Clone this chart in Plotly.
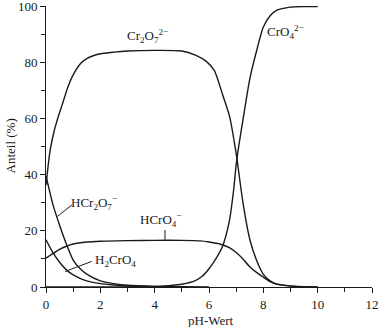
import plotly.graph_objects as go

# ---- data (pH, share in %) ----
ph_cr2o7 = [0, 0.15, 0.3, 0.45, 0.6, 0.8, 1.0, 1.25, 1.5, 2.0, 2.5, 3.0, 4.0, 5.0, 5.5, 5.9, 6.2, 6.5, 6.75, 7.0, 7.25, 7.5, 7.75, 8.0, 8.25, 8.5, 9.0, 10.0]
cr2o7 = [36.3, 48.5, 55.5, 60.6, 65, 71, 75.5, 79.3, 81.3, 83, 83.6, 84, 84.2, 84, 82.5, 80.3, 77, 68.5, 61, 47.5, 30, 17, 9.5, 4.5, 2.2, 1.0, 0.3, 0]

ph_cro4 = [0, 3, 4, 4.5, 5, 5.5, 5.75, 6.0, 6.25, 6.5, 6.75, 6.9, 7.0, 7.1, 7.25, 7.5, 7.75, 8.0, 8.25, 8.5, 9.0, 9.5, 10]
cro4 = [0, 0, 0.2, 0.5, 1.0, 2.3, 3.8, 6.5, 10, 14.5, 23.5, 34, 43.5, 50.5, 59.5, 74, 84, 92.5, 96.5, 98.5, 99.6, 99.8, 99.8]

ph_hcro4 = [0, 0.25, 0.5, 0.75, 1.0, 1.5, 2.0, 3.0, 4.0, 5.0, 5.7, 6.0, 6.4, 6.75, 7.0, 7.25, 7.5, 7.75, 8.0, 8.25, 8.5, 9.0, 9.5, 10]
hcro4 = [10.3, 11.9, 13.4, 14.5, 15.3, 16.0, 16.3, 16.5, 16.6, 16.6, 16.4, 16.0, 15.3, 14.0, 12.3, 10.0, 7.2, 5.2, 3.5, 1.9, 1.0, 0.4, 0.1, 0]

ph_hcr2o7 = [0, 0.25, 0.5, 0.75, 1.0, 1.25, 1.5, 2.0, 2.5, 3.0, 4.0, 5.0, 6.0]
hcr2o7 = [39.5, 29.5, 22, 15.3, 9.6, 6.6, 4.6, 2.2, 1.2, 0.6, 0.2, 0.1, 0]

ph_h2cro4 = [0, 0.25, 0.5, 0.75, 1.0, 1.25, 1.5, 2.0, 2.5, 3.0, 4.0, 5.0]
h2cro4 = [16.8, 12.3, 8.8, 6.1, 4.3, 3.1, 2.2, 1.2, 0.7, 0.35, 0.1, 0]

x_ticks = [0, 2, 4, 6, 8, 10, 12]
y_ticks = [0, 20, 40, 60, 80, 100]

FONT = "Liberation Serif, Times New Roman, serif"
INK = "#1a1a1a"
LINE = dict(color=INK, width=1.4, shape="spline", smoothing=0.6)

fig = go.Figure()
for xs, ys in [(ph_cr2o7, cr2o7), (ph_cro4, cro4), (ph_hcro4, hcro4),
               (ph_hcr2o7, hcr2o7), (ph_h2cro4, h2cro4)]:
    fig.add_trace(go.Scatter(x=xs, y=ys, mode="lines", line=LINE,
                             hoverinfo="skip", showlegend=False))

labels = [
    ("Cr<sub>2</sub>O<sub>7</sub><sup>2−</sup>", 3.72, 89.5),
    ("CrO<sub>4</sub><sup>2−</sup>", 8.8, 90.7),
    ("HCr<sub>2</sub>O<sub>7</sub><sup>−</sup>", 1.75, 30),
    ("HCrO<sub>4</sub><sup>−</sup>", 4.2, 24),
    ("H<sub>2</sub>CrO<sub>4</sub>", 2.55, 9.6),
]
for txt, x, y in labels:
    fig.add_annotation(x=x, y=y, text=txt, showarrow=False, xanchor="center",
                       yanchor="middle", font=dict(family=FONT, size=13, color=INK))

pointers = [
    (0.95, 29.2, 0.42, 25.1),
    (4.38, 20.3, 4.38, 16.8),
    (1.68, 9.1, 0.70, 5.5),
]
for x0, y0, x1, y1 in pointers:
    fig.add_shape(type="line", x0=x0, y0=y0, x1=x1, y1=y1, xref="x", yref="y",
                  line=dict(color=INK, width=1))

fig.add_annotation(text="Anteil (%)", xref="paper", yref="paper", x=0, y=0.5,
                   xshift=-36, textangle=-90, showarrow=False, xanchor="center",
                   yanchor="middle", font=dict(family=FONT, size=13, color=INK))
fig.add_annotation(text="pH-Wert", xref="paper", yref="paper", x=0.505, y=0,
                   yshift=-33, showarrow=False, xanchor="center", yanchor="middle",
                   font=dict(family=FONT, size=13, color=INK))

axis_common = dict(showline=True, linecolor=INK, linewidth=1, ticks="outside",
                   ticklen=5, tickcolor=INK, tickwidth=1, showgrid=False,
                   zeroline=False, ticklabeloverflow="allow",
                   tickfont=dict(family=FONT, size=13, color=INK))
fig.update_xaxes(range=[0, 12], tickvals=x_ticks, ticktext=[str(v) for v in x_ticks],
                 minor=dict(dtick=1, ticklen=4, ticks="outside", tickcolor=INK),
                 **axis_common)
fig.update_yaxes(range=[0, 100], tickvals=y_ticks, ticktext=[str(v) for v in y_ticks],
                 minor=dict(dtick=10, ticklen=4, ticks="outside", tickcolor=INK),
                 **axis_common)

fig.update_layout(width=378, height=327, margin=dict(l=46, r=6, t=6, b=40, autoexpand=False),
                  plot_bgcolor="white", paper_bgcolor="white", showlegend=False)

fig.write_html("out.html", config={"displayModeBar": False},
               post_script="document.body.style.margin='0';")
